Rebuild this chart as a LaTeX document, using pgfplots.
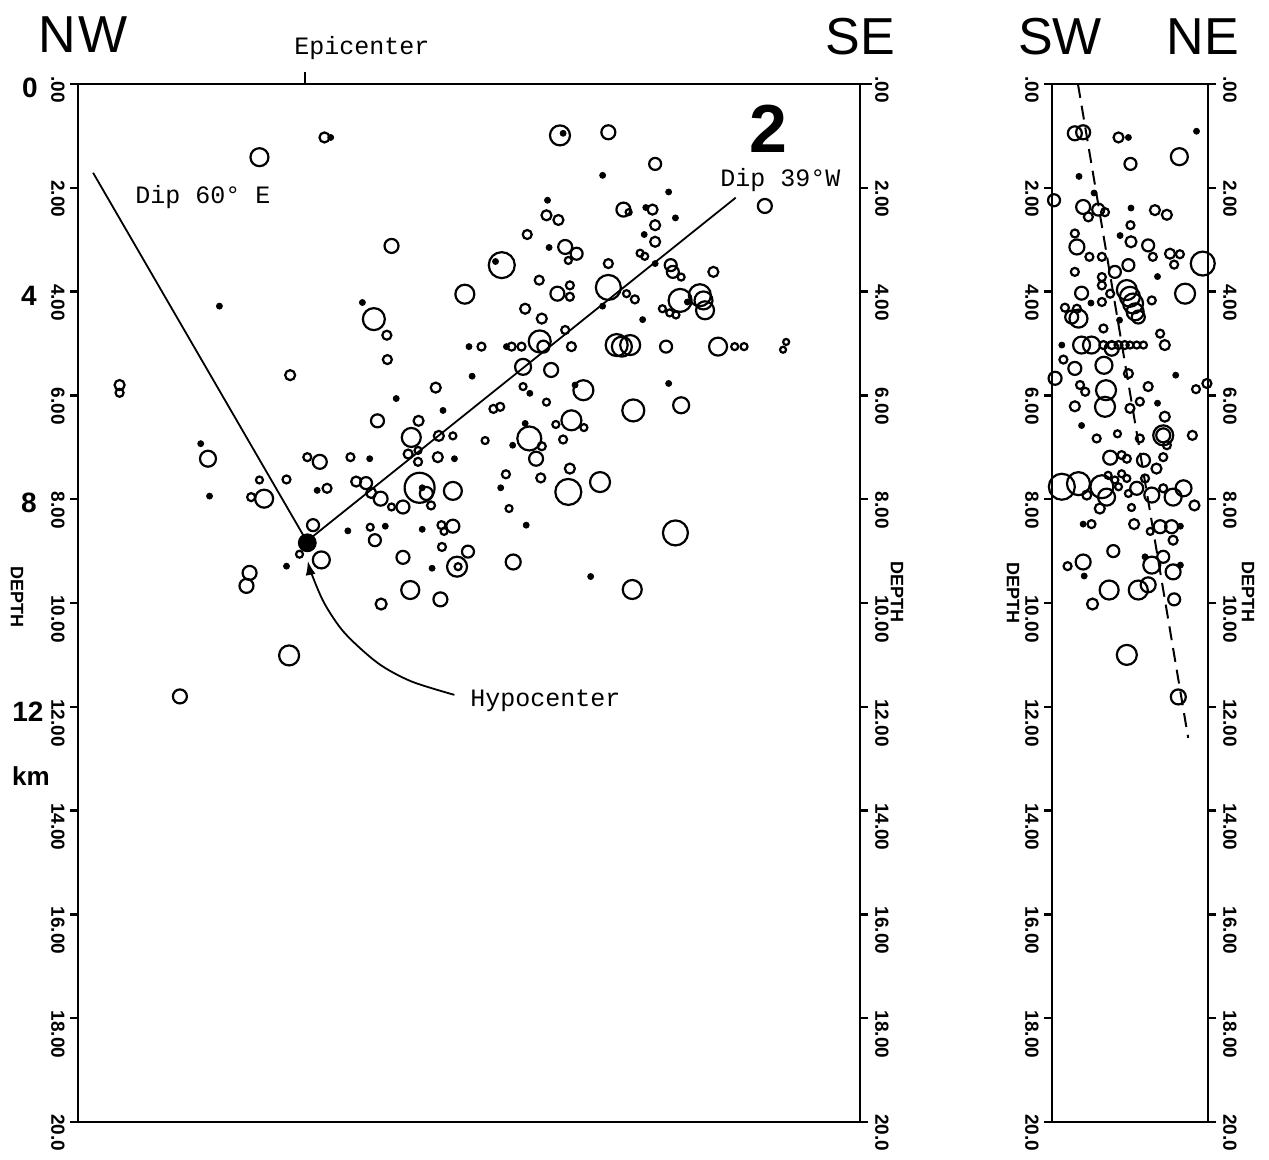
\documentclass[border=0pt]{standalone}
\usepackage{fontspec}
\usepackage{pgfplots}
\usepackage{pgfplotstable}
\pgfplotsset{compat=1.18}
\usetikzlibrary{arrows.meta}
\setmainfont{Liberation Sans}
\newfontfamily\lsans{Liberation Sans}
\newfontfamily\lmono{Liberation Mono}
\newcommand{\tickfont}{\lsans\bfseries\fontsize{9.5}{10}\selectfont}

\pgfplotstableread{
x d r
3.49 1.41 9
4.74 1.03 5
6.03 3.12 7
7.44 4.05 9.5
5.69 4.53 11
5.94 4.84 4.5
5.95 5.31 4.5
4.08 5.61 5
6.88 5.85 5
0.80 5.80 5
0.80 5.95 4
9.27 0.99 10
10.20 0.93 7
11.10 1.54 6
13.21 2.35 7
9.01 2.53 5
9.24 2.62 5
10.49 2.42 7
10.59 2.47 3
11.05 2.42 5
11.10 2.72 5
11.10 3.04 5
8.64 2.90 4.5
9.37 3.14 7
9.59 3.27 6
9.43 3.40 3.5
10.81 3.26 3.5
10.90 3.32 3.5
8.15 3.49 13
10.20 3.46 4.5
11.40 3.49 6
11.44 3.62 6
11.60 3.72 3.5
12.22 3.62 5
8.87 3.78 4.5
10.20 3.92 12.5
9.22 4.04 7
9.46 3.88 4
9.46 4.10 4
10.55 4.04 3.5
10.71 4.15 4
11.58 4.17 11.5
11.96 4.07 11
12.06 4.36 9
12.03 4.17 9
11.24 4.33 3.5
11.38 4.41 3.5
11.50 4.45 3.5
8.60 4.33 5
8.92 4.52 5
9.37 4.74 4
7.76 5.06 4
8.34 5.06 4
8.53 5.06 4
8.88 4.96 11
8.95 5.06 6
9.49 5.06 4.5
10.36 5.03 11
10.46 5.06 10
10.62 5.03 10
11.31 5.06 6
12.31 5.06 9
12.63 5.06 3.5
12.81 5.06 3.5
13.56 5.12 3
13.62 4.97 3
8.56 5.45 8
9.10 5.51 7
8.56 5.83 3.5
9.72 5.90 10
10.68 6.29 11
11.60 6.19 8
7.99 6.26 4
8.12 6.22 4
9.01 6.13 3.5
9.49 6.48 10
9.19 6.56 3.5
9.73 6.62 3.5
8.68 6.83 12
8.92 6.98 4
8.81 7.22 7
7.83 6.87 3.5
9.33 6.85 4
8.23 7.52 4
8.90 7.59 4.5
9.46 7.41 5
9.43 7.86 13
10.04 7.67 10
8.29 8.18 3.5
11.49 8.65 12.5
8.37 9.21 7.5
10.66 9.74 9.5
5.76 6.49 6.5
6.55 6.49 5
6.41 6.81 9.5
6.94 6.78 5
7.21 6.78 3.5
2.50 7.22 8
4.41 7.19 4
4.65 7.28 7
5.24 7.19 4
6.35 7.13 4.5
6.54 7.06 3.5
6.54 7.28 4
6.92 7.19 5
3.49 7.63 3.5
4.01 7.62 4
3.33 7.96 4
3.58 7.99 9
4.79 7.79 4.5
5.35 7.66 5
5.54 7.69 6
5.64 7.88 5
5.82 7.99 7
6.03 8.15 3.5
6.25 8.15 6.5
6.57 7.78 15
6.70 7.89 6.5
6.79 8.12 4
7.21 7.84 9
4.52 8.50 6
5.62 8.54 3.5
5.71 8.79 6
6.99 8.50 4
7.21 8.52 6.5
7.04 8.62 3.5
4.26 9.06 3.5
4.68 9.17 8.5
3.30 9.42 7
3.24 9.67 7
7.00 8.92 4
6.25 9.12 6.5
7.50 9.01 6
7.29 9.30 10
7.31 9.30 3.5
6.39 9.75 9
6.97 9.93 7
5.83 10.02 5.5
4.06 11.01 10
1.96 11.80 7
}\leftcircles

\pgfplotstableread{
x d
4.86 1.03
9.33 0.95
10.09 1.76
11.36 2.08
9.03 2.24
11.49 2.58
10.92 2.38
10.89 2.90
9.06 3.15
11.10 3.46
8.03 3.42
10.09 4.28
10.86 4.54
11.72 4.20
8.24 5.06
7.58 5.63
7.52 5.06
8.69 5.96
9.56 5.80
11.36 5.77
2.72 4.28
5.47 4.21
6.12 6.06
7.02 6.29
2.36 6.93
5.61 7.22
7.24 7.22
2.53 7.94
4.60 7.83
5.19 8.61
5.91 8.52
6.62 8.58
4.01 9.29
6.81 9.33
8.60 6.54
8.36 6.96
8.13 7.78
8.62 8.50
9.86 9.49
6.62 7.78
}\leftdots

\pgfplotstableread{
x d r
0.67 0.95 7
0.83 0.93 7
1.51 1.03 5
2.68 1.40 8.5
1.74 1.54 6
0.27 2.24 6
0.83 2.37 7
0.93 2.56 4.5
1.12 2.42 6
1.25 2.47 4
2.21 2.43 5
2.44 2.52 5
1.74 2.72 4
1.75 3.04 5.5
0.67 2.88 4
0.71 3.14 7.5
2.08 3.11 6
2.17 3.33 4
2.50 3.27 5
2.69 3.28 4
2.58 3.48 4
3.13 3.46 12
0.95 3.33 4
1.19 3.33 4
1.44 3.62 6
1.70 3.49 6
0.67 3.62 4
1.19 3.72 4
1.19 3.88 4
1.35 4.04 4
1.19 4.20 4
0.80 4.03 6.5
1.67 3.97 10
1.73 4.10 10
1.79 4.23 10
1.83 4.39 8.5
1.89 4.49 6.5
2.15 4.17 4
2.79 4.04 10
0.48 4.31 4
0.71 4.33 4
0.61 4.49 6.5
0.74 4.52 9
1.22 4.71 4
2.31 4.81 4
2.40 5.03 5
0.80 5.03 8.5
0.99 5.03 8.5
1.22 5.03 4
1.38 5.03 4
1.51 5.03 4
1.63 5.03 4
1.73 5.03 3.5
1.86 5.03 3.5
1.99 5.03 3.5
1.38 5.10 7
0.45 5.31 4
0.67 5.48 6.5
1.23 5.42 8.5
1.70 5.58 4.5
0.29 5.67 6.5
3.21 5.77 4.5
3.00 5.88 4
2.08 5.83 4.5
1.27 5.90 10
0.77 5.80 4
0.87 5.93 4
0.67 6.21 5
1.25 6.22 10
2.40 6.41 5
1.73 6.25 4.5
1.92 6.12 4
1.09 6.83 4
1.49 6.74 3.5
2.37 6.77 10
2.37 6.77 7
2.93 6.77 4.5
1.92 6.83 4
1.35 7.20 7
1.57 7.15 4
1.67 7.22 4
1.99 7.25 6.5
2.44 6.96 4
2.37 7.19 4
2.24 7.41 5
0.42 7.76 13
0.74 7.70 11.5
1.19 7.76 11.5
1.28 7.96 8.5
0.90 7.92 4.5
1.31 7.54 3.5
1.44 7.63 3.5
1.57 7.51 3.5
1.67 7.60 3.5
1.51 7.76 3.5
1.70 7.89 3.5
1.86 7.79 6.5
2.02 7.60 4
2.15 7.92 7.5
2.37 7.79 4
2.56 7.96 8.5
2.76 7.79 8
2.97 8.12 5
1.15 8.18 5
1.76 8.16 3.5
0.99 8.48 4
1.81 8.48 5
2.12 8.62 3.5
2.31 8.53 6.5
2.53 8.53 6.5
2.56 8.79 4.5
1.41 9.00 6
0.83 9.21 7.5
0.53 9.29 4
2.15 9.27 8.5
2.37 9.11 6
2.56 9.40 7.5
1.33 9.75 9.5
1.89 9.75 9.5
2.08 9.65 7.5
2.58 9.93 6
1.01 10.02 5.5
1.67 11.00 10
2.66 11.81 7.5
}\rightcircles

\pgfplotstableread{
x d
1.70 1.03
3.01 0.91
0.75 1.78
1.04 2.10
1.75 2.39
1.54 2.92
2.26 3.71
0.98 4.22
1.53 4.55
0.42 5.03
2.61 5.61
2.26 6.15
0.80 6.58
0.83 8.48
0.85 9.48
2.02 9.11
2.70 9.27
2.70 8.52
}\rightdots

\pgfplotsset{
  quake/.style={only marks, scatter, mark=o,
    mark options={line width=1.1pt},
    scatter/use mapped color={draw=black, fill=none},
    visualization depends on={0.5*\thisrow{r} \as \rad},
    scatter/@pre marker code/.append style={/tikz/mark size=\rad pt}},
  quakedot/.style={only marks, mark=*, mark size=1.5pt, black},
  panel/.style={anchor=south west, scale only axis, height=519pt,
    ymin=0, ymax=20, y dir=reverse, clip=false, xtick=\empty,
    ytick={0,2,...,20},
    yticklabels={.00,2.00,4.00,6.00,8.00,10.00,12.00,14.00,16.00,18.00,20.0},
    tick align=outside, major tick length=4pt,
    axis line style={line width=1.2pt},
    every tick/.style={black, line width=1.2pt}},
  leftlab/.style={ytick pos=left,
    yticklabel style={font=\tickfont, inner sep=0pt, xshift=-6pt, yshift=4pt, rotate=-90, anchor=west}},
  rightlab/.style={hide x axis, axis y line*=right,
    yticklabel style={font=\tickfont, inner sep=0pt, xshift=7pt, yshift=4pt, rotate=-90, anchor=west}},
}

\begin{document}
\begin{tikzpicture}
\path[use as bounding box] (0,0) rectangle (634.5pt,580pt);

% left section
\begin{axis}[panel, leftlab, at={(39pt,19pt)}, width=391pt, xmin=0, xmax=15.04]
  \addplot[line width=0.9pt] coordinates {(0.29,1.71) (4.40,8.81) (12.65,2.19)};
  \addplot[line width=0.9pt, smooth, {Latex[length=7pt,width=5pt]}-]
    coordinates {(4.42,9.19) (4.49,9.43) (4.74,10.01) (5.13,10.58) (5.77,11.16) (6.41,11.51) (7.24,11.77)};
  \addplot[quake] table[x=x, y=d] {\leftcircles};
  \addplot[quakedot] table[x=x, y=d] {\leftdots};
  \addplot[only marks, mark=*, mark size=4.5pt, black] coordinates {(4.41,8.84)};
  \draw[line width=1pt] (axis cs:4.37,0) -- ++(0,6pt);
  \draw[line width=1.2pt] (axis cs:15.04,0) -- ++(6pt,0);
\end{axis}
\begin{axis}[panel, rightlab, at={(39pt,19pt)}, width=391pt, xmin=0, xmax=15.04]
\end{axis}

% right section
\begin{axis}[panel, leftlab, at={(526pt,19pt)}, width=78pt, xmin=0.231, xmax=3.231]
  \addplot[line width=1pt, dash pattern=on 7pt off 4pt] coordinates {(0.73,0) (2.85,12.6)};
  \addplot[quake] table[x=x, y=d] {\rightcircles};
  \addplot[quakedot] table[x=x, y=d] {\rightdots};
\end{axis}
\begin{axis}[panel, rightlab, at={(526pt,19pt)}, width=78pt, xmin=0.231, xmax=3.231]
\end{axis}

% annotations in image pixel frame
\begin{scope}[shift={(0pt,580pt)}, x=0.5pt, y=-0.5pt]
  \node[font=\lsans\fontsize{26}{26}\selectfont] at (83,35) {N\kern1pt W};
  \node[font=\lsans\fontsize{26}{26}\selectfont] at (860,37) {SE};
  \node[font=\lsans\fontsize{26}{26}\selectfont] at (1060,37) {SW};
  \node[font=\lsans\fontsize{26}{26}\selectfont] at (1203,37) {NE};
  \node[font=\lsans\bfseries\fontsize{34}{34}\selectfont] at (768,129) {2};
  \node[font=\lmono\fontsize{12.5}{13}\selectfont] at (362,48) {Epicenter};
  \node[font=\lmono\fontsize{12.5}{13}\selectfont, anchor=west, inner sep=0pt] at (135,197) {Dip 60° E};
  \node[font=\lmono\fontsize{12.5}{13}\selectfont, anchor=west, inner sep=0pt] at (720,180) {Dip 39°W};
  \node[font=\lmono\fontsize{12.5}{13}\selectfont, anchor=west, inner sep=0pt] at (470,701) {Hypocenter};
  \node[font=\lsans\bfseries\fontsize{14}{14}\selectfont] at (30,88) {0};
  \node[font=\lsans\bfseries\fontsize{14}{14}\selectfont] at (29,296) {4};
  \node[font=\lsans\bfseries\fontsize{14}{14}\selectfont] at (29,503) {8};
  \node[font=\lsans\bfseries\fontsize{14}{14}\selectfont] at (28,712) {12};
  \node[font=\lsans\bfseries\fontsize{13}{13}\selectfont] at (31,776) {km};
  \node[font=\lsans\bfseries\fontsize{9}{9}\selectfont, rotate=-90] at (17,597) {DEPTH};
  \node[font=\lsans\bfseries\fontsize{9}{9}\selectfont, rotate=-90] at (897,592) {DEPTH};
  \node[font=\lsans\bfseries\fontsize{9}{9}\selectfont, rotate=-90] at (1013,593) {DEPTH};
  \node[font=\lsans\bfseries\fontsize{9}{9}\selectfont, rotate=-90] at (1248,592) {DEPTH};
\end{scope}
\end{tikzpicture}
\end{document}
